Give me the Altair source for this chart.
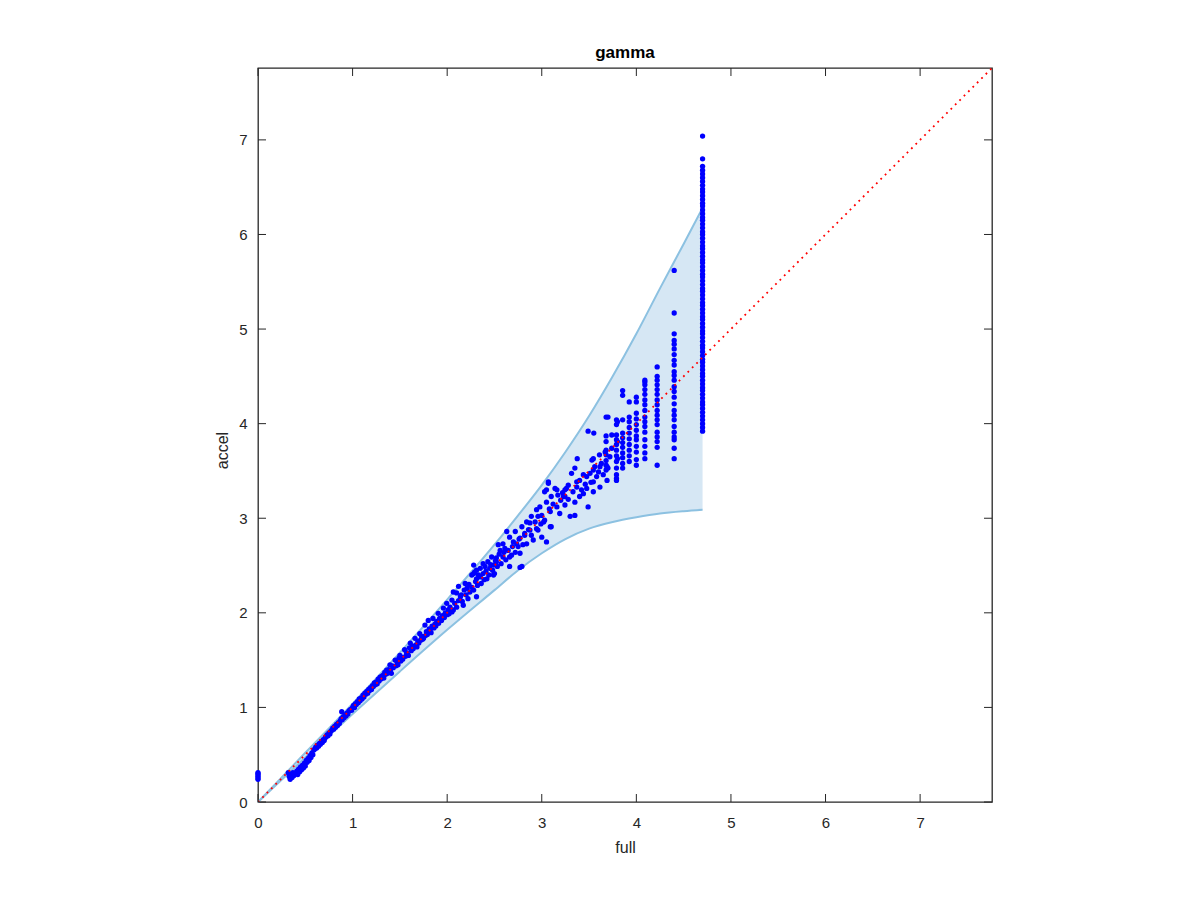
import altair as alt
import pandas as pd

# ---------------- data ----------------
band_full = [0.0, 0.5, 1.0, 1.5, 2.0, 2.5, 2.75, 3.0, 3.25, 3.5, 3.75, 4.0, 4.25, 4.5, 4.7]
band_upper = [0.0, 0.52, 1.04, 1.58, 2.14, 2.72, 3.03, 3.35, 3.70, 4.08, 4.50, 4.95, 5.43, 5.90, 6.28]
band_lower = [0.0, 0.47, 0.93, 1.38, 1.82, 2.24, 2.45, 2.63, 2.78, 2.89, 2.96, 3.01, 3.05, 3.075, 3.09]

diag_vals = [0.0, 7.76]

pts_zero = [(0, 0.24), (0, 0.255), (0, 0.27), (0, 0.285), (0, 0.30), (0, 0.31)]

pts_low = [(0.32, 0.31), (0.33, 0.27), (0.34, 0.24), (0.35, 0.29), (0.36, 0.26), (0.37, 0.31),
           (0.38, 0.28), (0.40, 0.30), (0.41, 0.33), (0.42, 0.29), (0.43, 0.35), (0.44, 0.32),
           (0.45, 0.37), (0.46, 0.34), (0.47, 0.39), (0.48, 0.36), (0.49, 0.41), (0.50, 0.38),
           (0.51, 0.44), (0.52, 0.42), (0.53, 0.46), (0.54, 0.44), (0.55, 0.49), (0.56, 0.47),
           (0.57, 0.52), (0.58, 0.50), (0.59, 0.55), (0.60, 0.56), (0.61, 0.58), (0.62, 0.57),
           (0.63, 0.60), (0.64, 0.59), (0.65, 0.62), (0.66, 0.61), (0.67, 0.64), (0.68, 0.63),
           (0.69, 0.66), (0.70, 0.65), (0.71, 0.68), (0.72, 0.69), (0.73, 0.71), (0.74, 0.70),
           (0.75, 0.73), (0.76, 0.72), (0.77, 0.75), (0.78, 0.76), (0.79, 0.78), (0.80, 0.77),
           (0.81, 0.80), (0.82, 0.79), (0.83, 0.82), (0.84, 0.81), (0.85, 0.84), (0.86, 0.83),
           (0.87, 0.86), (0.885, 0.955), (0.88, 0.88), (0.89, 0.87), (0.90, 0.90), (0.91, 0.89),
           (0.92, 0.92), (0.93, 0.91), (0.94, 0.94), (0.95, 0.93), (0.96, 0.96), (0.97, 0.97),
           (0.98, 0.98), (0.99, 0.97), (1.00, 1.00)]

pts_mid = [(1.01, 1.02), (1.02, 1.00), (1.03, 1.04), (1.04, 1.03), (1.05, 1.06), (1.06, 1.05),
           (1.07, 1.09), (1.08, 1.07), (1.09, 1.10), (1.10, 1.09), (1.11, 1.13), (1.12, 1.11),
           (1.13, 1.15), (1.14, 1.14), (1.15, 1.17), (1.16, 1.15), (1.17, 1.19), (1.18, 1.18),
           (1.19, 1.21), (1.20, 1.19), (1.21, 1.23), (1.22, 1.22), (1.23, 1.26), (1.24, 1.24),
           (1.25, 1.27), (1.26, 1.25), (1.27, 1.30), (1.28, 1.28), (1.29, 1.32), (1.30, 1.30),
           (1.31, 1.33), (1.325, 1.34), (1.33, 1.31), (1.34, 1.37), (1.35, 1.35), (1.36, 1.395),
           (1.37, 1.36), (1.38, 1.40), (1.395, 1.45), (1.40, 1.39), (1.41, 1.36), (1.42, 1.44),
           (1.43, 1.42), (1.45, 1.50), (1.46, 1.44), (1.47, 1.48), (1.48, 1.45), (1.49, 1.52),
           (1.50, 1.55), (1.51, 1.49), (1.52, 1.53), (1.53, 1.51), (1.55, 1.61), (1.56, 1.54),
           (1.57, 1.58), (1.58, 1.56), (1.59, 1.55), (1.60, 1.63), (1.61, 1.68), (1.62, 1.60),
           (1.63, 1.65), (1.64, 1.62), (1.66, 1.73), (1.67, 1.66), (1.68, 1.64), (1.69, 1.70),
           (1.70, 1.68), (1.71, 1.78), (1.72, 1.71), (1.73, 1.75), (1.74, 1.72), (1.75, 1.73),
           (1.765, 1.87), (1.77, 1.76), (1.78, 1.80), (1.79, 1.77), (1.80, 1.92), (1.81, 1.83),
           (1.82, 1.82), (1.83, 1.79), (1.84, 1.86), (1.85, 1.94), (1.86, 1.84), (1.87, 1.88),
           (1.88, 1.86), (1.89, 1.91), (1.905, 1.995), (1.91, 1.89), (1.92, 1.94), (1.93, 1.92),
           (1.94, 1.92), (1.95, 1.97), (1.96, 2.05), (1.97, 1.95), (1.98, 2.00), (1.995, 2.10),
           (2.00, 1.98)]

pts_upper_mid = [(2.01, 2.03), (2.02, 1.99), (2.03, 2.06), (2.05, 2.135), (2.05, 2.01), (2.065, 2.22),
                 (2.065, 2.03), (2.08, 2.10), (2.10, 2.21), (2.10, 2.06), (2.12, 2.28), (2.12, 2.13),
                 (2.14, 2.17), (2.15, 2.19), (2.16, 2.12), (2.17, 2.08), (2.18, 2.24), (2.19, 2.31),
                 (2.20, 2.19), (2.21, 2.26), (2.22, 2.15), (2.23, 2.30), (2.24, 2.22), (2.26, 2.40),
                 (2.26, 2.27), (2.28, 2.505), (2.28, 2.415), (2.28, 2.24), (2.29, 2.43), (2.30, 2.33),
                 (2.31, 2.45), (2.31, 2.36), (2.31, 2.17), (2.32, 2.29), (2.33, 2.40), (2.35, 2.47),
                 (2.35, 2.38), (2.36, 2.31), (2.38, 2.52), (2.38, 2.415), (2.39, 2.35), (2.40, 2.49),
                 (2.41, 2.44), (2.42, 2.36), (2.43, 2.54), (2.44, 2.40), (2.45, 2.47), (2.46, 2.51),
                 (2.47, 2.59), (2.48, 2.45), (2.49, 2.505), (2.49, 2.40), (2.50, 2.415), (2.51, 2.55),
                 (2.52, 2.58), (2.52, 2.54), (2.53, 2.49), (2.54, 2.72), (2.55, 2.62), (2.56, 2.66),
                 (2.57, 2.52), (2.59, 2.73), (2.59, 2.59), (2.60, 2.64), (2.61, 2.68), (2.62, 2.56),
                 (2.63, 2.86), (2.645, 2.66), (2.66, 2.80), (2.66, 2.59), (2.66, 2.49), (2.68, 2.61),
                 (2.69, 2.70), (2.70, 2.75), (2.72, 2.86), (2.72, 2.64), (2.735, 2.73), (2.75, 2.70),
                 (2.76, 2.78), (2.77, 2.79), (2.77, 2.63), (2.77, 2.48), (2.79, 2.91), (2.79, 2.49),
                 (2.80, 2.72), (2.82, 2.82), (2.82, 2.84), (2.84, 2.96), (2.84, 2.73), (2.86, 2.88),
                 (2.875, 2.95), (2.875, 2.875), (2.89, 3.02), (2.89, 2.82), (2.91, 2.77), (2.93, 2.96),
                 (2.945, 3.09), (2.945, 2.89), (2.96, 3.02), (2.96, 2.875), (2.98, 3.12), (2.99, 2.94)]

pts_high = [(3.00, 3.03), (3.00, 2.80), (3.02, 2.96), (3.03, 3.28), (3.03, 2.98), (3.05, 3.30),
            (3.05, 3.17), (3.05, 2.75), (3.07, 3.385), (3.07, 3.37), (3.08, 3.10), (3.09, 3.07),
            (3.09, 2.91), (3.10, 3.23), (3.10, 2.91), (3.12, 3.15), (3.14, 3.315), (3.16, 3.30),
            (3.16, 3.12), (3.17, 3.245), (3.19, 3.05), (3.20, 3.19), (3.22, 3.27), (3.23, 3.23),
            (3.245, 3.30), (3.245, 3.23), (3.245, 3.14), (3.26, 3.315), (3.28, 3.35), (3.28, 3.20),
            (3.30, 3.02), (3.315, 3.475), (3.33, 3.28), (3.35, 3.53), (3.35, 3.17), (3.35, 3.03),
            (3.37, 3.385), (3.37, 3.33), (3.375, 3.63), (3.40, 3.40), (3.40, 3.23), (3.42, 3.30),
            (3.44, 3.46), (3.44, 3.26), (3.46, 3.36), (3.475, 3.44), (3.475, 3.315), (3.49, 3.92),
            (3.49, 3.12), (3.51, 3.475), (3.52, 3.38), (3.53, 3.615), (3.545, 3.63), (3.545, 3.51),
            (3.545, 3.385), (3.545, 3.28), (3.55, 3.90), (3.56, 3.545), (3.58, 3.44), (3.60, 3.49),
            (3.61, 3.67), (3.615, 3.545), (3.615, 3.33), (3.63, 3.58), (3.65, 3.46), (3.67, 3.70),
            (3.69, 3.545), (3.69, 3.40), (3.70, 4.07), (3.70, 3.53), (3.72, 3.65), (3.74, 3.88),
            (3.74, 3.74), (3.79, 3.42), (3.80, 3.81), (3.80, 3.63), (3.80, 4.02)]

col_368 = [4.07, 3.87, 3.81, 3.72, 3.67, 3.61, 3.56, 3.51]
col_379 = [4.04, 3.99, 3.88, 3.83, 3.78, 3.72, 3.66, 3.60, 3.53, 3.46, 3.40]
col_385 = [4.35, 4.30, 4.04, 3.90, 3.85, 3.80, 3.75, 3.69, 3.64, 3.58, 3.53]
col_392 = [4.23, 4.07, 4.02, 3.96, 3.90, 3.84, 3.78, 3.72, 3.66, 3.60]
col_400 = [4.28, 4.23, 4.11, 4.05, 3.99, 3.93, 3.87, 3.83, 3.76, 3.70, 3.62, 3.56]
col_409 = [4.46, 4.44, 4.41, 4.36, 4.31, 4.25, 4.20, 4.14, 4.07, 4.02, 3.97, 3.91, 3.83, 3.76, 3.69, 3.63]
col_422 = [4.60, 4.50, 4.46, 4.41, 4.36, 4.31, 4.25, 4.20, 4.14, 4.09, 4.04, 3.99, 3.91, 3.86, 3.81, 3.75, 3.56]
col_440 = [5.62, 5.17, 4.95, 4.88, 4.84, 4.79, 4.73, 4.67, 4.62, 4.55, 4.51, 4.46, 4.39, 4.34, 4.28,
           4.21, 4.14, 4.09, 4.04, 3.97, 3.91, 3.86, 3.83, 3.74, 3.63]
col_470 = [7.04, 6.80, 6.72, 6.68, 6.64, 6.60, 6.56, 6.52, 6.48, 6.45, 6.41, 6.37, 6.33, 6.30, 6.26,
           6.22, 6.18, 6.15, 6.11, 6.07, 6.03, 6.00, 5.96, 5.92, 5.88, 5.85, 5.81, 5.77, 5.73, 5.70,
           5.66, 5.62, 5.58, 5.55, 5.51, 5.47, 5.43, 5.40, 5.36, 5.32, 5.28, 5.25, 5.21, 5.17, 5.13,
           5.10, 5.06, 5.02, 4.98, 4.95, 4.91, 4.87, 4.83, 4.80, 4.76, 4.72, 4.68, 4.65, 4.61, 4.57,
           4.53, 4.50, 4.46, 4.42, 4.38, 4.35, 4.31, 4.27, 4.23, 4.20, 4.16, 4.12, 4.08, 4.04, 4.00,
           3.96, 3.92]
col_x = {3.68: col_368, 3.79: col_379, 3.855: col_385, 3.925: col_392, 4.00: col_400,
         4.09: col_409, 4.22: col_422, 4.40: col_440, 4.70: col_470}

tick_vals = [0, 1, 2, 3, 4, 5, 6, 7]

# ---------------- build tables ----------------
pairs = pts_zero + pts_low + pts_mid + pts_upper_mid + pts_high
for cx, yl in col_x.items():
    pairs += [(cx, yv) for yv in yl]
pts_df = pd.DataFrame(pairs, columns=["full", "accel"])
band_df = pd.DataFrame({"full": band_full, "upper": band_upper, "lower": band_lower})
diag_df = pd.DataFrame({"full": diag_vals, "accel": diag_vals})
ticks_df = pd.DataFrame({"full": tick_vals, "accel": tick_vals})

W = H = 734
AX = "#262626"
FONT = "Liberation Sans"
xs = alt.Scale(domain=[0, 7.76], nice=False, zero=False)
ys = alt.Scale(domain=[0, 7.76], nice=False, zero=False)
common_axis = dict(values=tick_vals, ticks=False, domain=False, grid=False, format="d",
                   labelFont=FONT, titleFont=FONT, labelFontSize=15, titleFontSize=16,
                   labelColor=AX, titleColor=AX, titleFontWeight="normal", labelFlush=False)
xaxis = alt.Axis(title="full", labelPadding=13, titlePadding=9, **common_axis)
yaxis = alt.Axis(title="accel", labelPadding=11, titlePadding=8, titleY=382, **common_axis)


def X(f):
    return alt.X(f, type="quantitative", scale=xs, axis=xaxis)


def Y(f):
    return alt.Y(f, type="quantitative", scale=ys, axis=yaxis)


band = alt.Chart(band_df).mark_area(color="#d6e7f4", interpolate="monotone").encode(
    x=X("full"), y=Y("upper"), y2="lower")
upper_line = alt.Chart(band_df).mark_line(color="#8cc1e1", strokeWidth=2, interpolate="monotone").encode(
    x=X("full"), y=Y("upper"))
lower_line = alt.Chart(band_df).mark_line(color="#8cc1e1", strokeWidth=2, interpolate="monotone").encode(
    x=X("full"), y=Y("lower"))
points = alt.Chart(pts_df).mark_circle(color="#0000ff", opacity=1, size=28).encode(
    x=X("full"), y=Y("accel"))
diag = alt.Chart(diag_df).mark_line(color="#ff0000", strokeWidth=1.8, strokeDash=[1.8, 4.4], clip=True).encode(
    x=X("full"), y=Y("accel"))

tick_len = 8
t_bottom = alt.Chart(ticks_df).mark_rule(color=AX, strokeWidth=1).encode(
    x=X("full"), y=alt.value(H), y2=alt.value(H - tick_len))
t_top = alt.Chart(ticks_df).mark_rule(color=AX, strokeWidth=1).encode(
    x=X("full"), y=alt.value(0), y2=alt.value(tick_len))
t_left = alt.Chart(ticks_df).mark_rule(color=AX, strokeWidth=1).encode(
    y=Y("accel"), x=alt.value(0), x2=alt.value(tick_len))
t_right = alt.Chart(ticks_df).mark_rule(color=AX, strokeWidth=1).encode(
    y=Y("accel"), x=alt.value(W), x2=alt.value(W - tick_len))

chart = alt.layer(band, upper_line, lower_line, points, diag, t_bottom, t_top, t_left, t_right).properties(
    width=W, height=H,
    title=alt.Title("gamma", fontSize=17, fontWeight="bold", font=FONT, color="#000000", offset=6),
    autosize=alt.AutoSizeParams(type="none"),
    padding={"left": 250, "top": 60, "right": 100, "bottom": 80},
    background="white",
).configure_view(stroke=AX, strokeWidth=1.3)

chart.save("out.html", embed_options={"renderer": "svg", "actions": False})
